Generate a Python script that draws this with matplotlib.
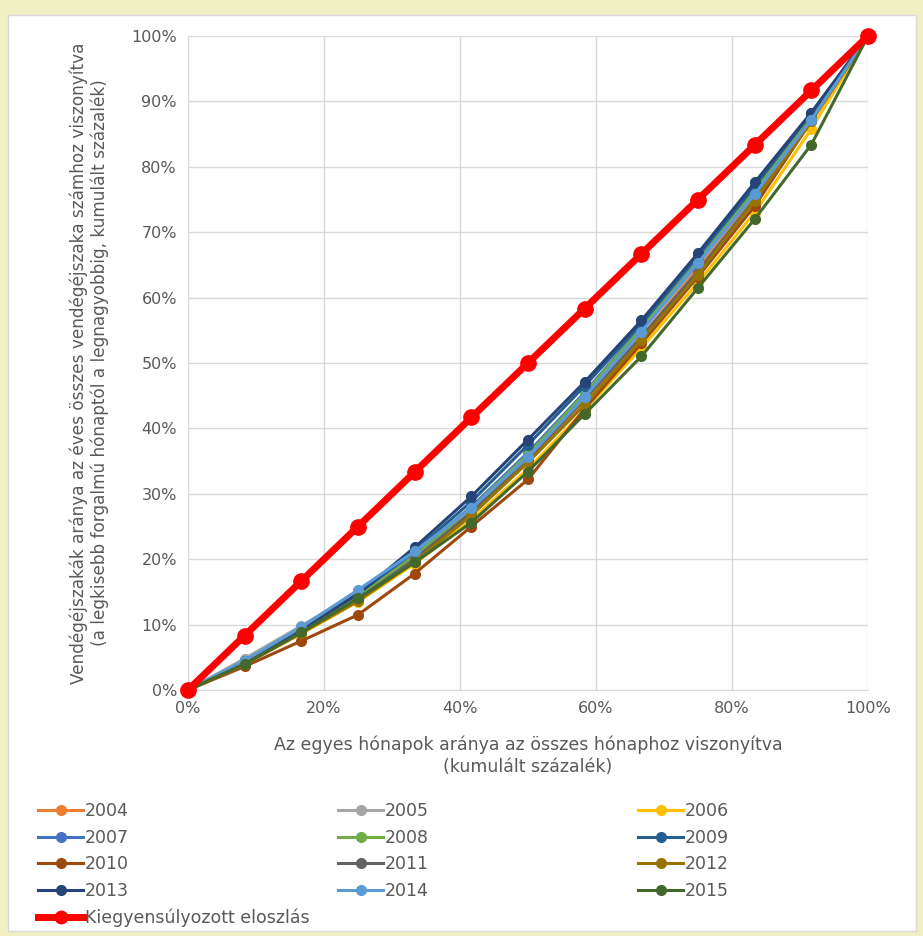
'''Lorenz-szerű görbék: vendégéjszakák havi eloszlása 2004-2015'''
import matplotlib
matplotlib.use('Agg')
import matplotlib.pyplot as plt
from matplotlib.patches import Rectangle
from matplotlib.lines import Line2D
from matplotlib.ticker import PercentFormatter

# kumulált hónap-arány (0..12 hónap)
months = [0, 1, 2, 3, 4, 5, 6, 7, 8, 9, 10, 11, 12]

years = ['2004', '2005', '2006', '2007', '2008', '2009',
         '2010', '2011', '2012', '2013', '2014', '2015']

y2004 = [0, 4.2, 9.0, 14.0, 20.0, 27.0, 35.0, 44.0, 54.0, 64.5, 75.5, 87.5, 100]
y2005 = [0, 4.8, 9.8, 15.0, 21.0, 28.0, 36.0, 45.0, 55.0, 65.0, 76.0, 87.8, 100]
y2006 = [0, 4.0, 8.6, 13.5, 19.3, 26.0, 33.8, 42.8, 52.3, 62.3, 73.0, 85.8, 100]
y2007 = [0, 4.4, 9.3, 14.5, 20.8, 28.0, 36.3, 45.5, 55.5, 66.0, 76.8, 88.0, 100]
y2008 = [0, 4.3, 9.1, 14.2, 20.5, 27.8, 36.0, 45.3, 55.3, 65.5, 76.3, 87.8, 100]
y2009 = [0, 4.4, 9.3, 14.7, 21.3, 28.8, 37.5, 46.5, 56.0, 66.5, 77.0, 88.2, 100]
y2010 = [0, 3.6, 7.5, 11.5, 17.8, 25.0, 32.2, 43.0, 53.0, 63.2, 74.0, 87.0, 100]
y2011 = [0, 4.2, 8.9, 13.9, 20.0, 27.2, 35.3, 44.5, 54.0, 64.0, 75.0, 87.3, 100]
y2012 = [0, 3.9, 8.7, 13.6, 19.6, 26.7, 34.8, 43.6, 53.5, 63.5, 74.8, 87.0, 100]
y2013 = [0, 4.3, 9.3, 14.7, 21.8, 29.6, 38.3, 47.1, 56.5, 66.8, 77.6, 88.3, 100]
y2014 = [0, 4.5, 9.6, 15.3, 21.2, 27.8, 35.6, 44.8, 54.8, 65.3, 75.8, 87.2, 100]
y2015 = [0, 4.0, 8.8, 14.0, 19.5, 25.6, 33.4, 42.2, 51.0, 61.5, 72.0, 83.4, 100]
balanced = [0, 8.33, 16.67, 25.0, 33.33, 41.67, 50.0, 58.33, 66.67, 75.0, 83.33, 91.67, 100]

series = [y2004, y2005, y2006, y2007, y2008, y2009,
          y2010, y2011, y2012, y2013, y2014, y2015]
colors = ['#ED7D31', '#A5A5A5', '#FFC000', '#4472C4', '#70AD47', '#255E91',
          '#9E480E', '#636363', '#997300', '#264478', '#5B9BD5', '#43682B']

x = [m / 12 * 100 for m in months]

fig = plt.figure(figsize=(9.23, 9.36), dpi=100, facecolor='#F1EFC4')
W, H = 923, 936
fig.patches.append(Rectangle((8 / W, 1 - 931 / H), 908 / W, 916 / H,
                             transform=fig.transFigure, facecolor='white',
                             edgecolor='#D9D9D9', lw=1, zorder=-10))

ax = fig.add_axes([188 / W, 1 - 690 / H, 680 / W, 654 / H])
ax.set_facecolor('none')

for vals, c, yr in zip(series, colors, years):
    ax.plot(x, vals, color=c, lw=2.2, marker='o', ms=7, label=yr,
            clip_on=False, zorder=3)
ax.plot(x, balanced, color='#FF0000', lw=5, marker='o', ms=11,
        label='Kiegyensúlyozott eloszlás', clip_on=False, zorder=4)

ax.set_xlim(0, 100)
ax.set_ylim(0, 100)
ax.set_xticks(range(0, 101, 20))
ax.set_yticks(range(0, 101, 10))
ax.xaxis.set_major_formatter(PercentFormatter(decimals=0))
ax.yaxis.set_major_formatter(PercentFormatter(decimals=0))
ax.grid(True, color='#D9D9D9', lw=1)
ax.set_axisbelow(True)
for s in ['top', 'right', 'left']:
    ax.spines[s].set_visible(False)
ax.spines['bottom'].set_color('#D9D9D9')
ax.tick_params(length=0, labelsize=11.5, colors='#595959', pad=8)

ax.set_xlabel('Az egyes hónapok aránya az összes hónaphoz viszonyítva\n(kumulált százalék)',
              fontsize=12.5, color='#595959', labelpad=14, linespacing=1.3)
ax.set_ylabel('Vendégéjszakák aránya az éves összes vendégéjszaka számhoz viszonyítva\n'
              '(a legkisebb forgalmú hónaptól a legnagyobbig, kumulált százalék)',
              fontsize=12.2, color='#595959', labelpad=16, linespacing=1.2)

# legend: three columns, row-major reading order
handles = [Line2D([], [], color=c, lw=2.2, marker='o', ms=7) for c in colors]
red_h = Line2D([], [], color='#FF0000', lw=5, marker='o', ms=9)
cols = [([handles[0], handles[3], handles[6], handles[9], red_h],
         [years[0], years[3], years[6], years[9], 'Kiegyensúlyozott eloszlás'], 38),
        ([handles[1], handles[4], handles[7], handles[10]],
         [years[1], years[4], years[7], years[10]], 338),
        ([handles[2], handles[5], handles[8], handles[11]],
         [years[2], years[5], years[8], years[11]], 638)]
for hs, ls, px in cols:
    fig.legend(hs, ls, loc='upper left', bbox_to_anchor=(px / W, 1 - 802 / H),
               frameon=False, fontsize=12.5, labelcolor='#595959',
               handlelength=2.6, handletextpad=0.1, labelspacing=0.5,
               borderpad=0, borderaxespad=0)

fig.savefig('out.png', dpi=100, facecolor=fig.get_facecolor())
